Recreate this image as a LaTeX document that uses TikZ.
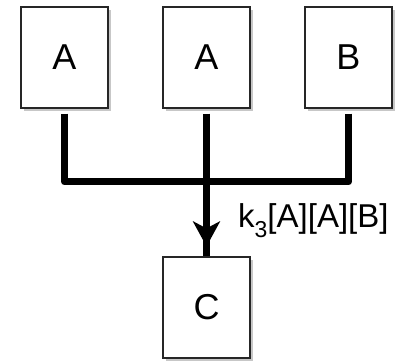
\documentclass[tikz,border=0pt]{standalone}
\usepackage{fontspec}
\setmainfont{Liberation Sans}
\usetikzlibrary{arrows.meta}
\begin{document}
\begin{tikzpicture}[x=1pt,y=-1pt,
  box/.style={draw=black!85,line width=1.2pt,fill=white,minimum width=87pt,minimum height=101pt,inner sep=0pt,
     font=\fontsize{36}{40}\selectfont},
  shadowbox/.style={fill=black!22,minimum width=87pt,minimum height=101pt,inner sep=0pt},
  conn/.style={line width=7pt,line join=round,black}
]
\useasboundingbox (0,0) rectangle (401,363);
% shadows
\foreach \x/\y in {64.5/57.5,206.5/57.5,348.5/57.5,206.5/307.5}
  \node[shadowbox] at (\x+3,\y+3) {};
\node[box] (a1) at (64.5,57.5) {A};
\node[box] (a2) at (206.5,57.5) {A};
\node[box] (b) at (348.5,57.5) {B};
\node[box] (c) at (206.5,307.5) {C};
\coordinate (j) at (206.5,182);
\draw[conn,shorten <=5pt] (a1.south) |- (j);
\draw[conn,shorten <=5pt] (b.south) |- (j);
\draw[conn,shorten <=5pt] (a2.south) -- (j);
\draw[conn] (j) -- (c.north);
\draw[conn,-{Stealth[length=25pt,width=27pt,inset=7pt]},shorten >=10pt] (j) -- (c.north);
\node[anchor=west,inner sep=0pt,font=\fontsize{33}{38}\selectfont] (lab) at (238,221)
  {k\raisebox{-0.3em}{\fontsize{23}{26}\selectfont 3}[A][A][B]};
\end{tikzpicture}
\end{document}
